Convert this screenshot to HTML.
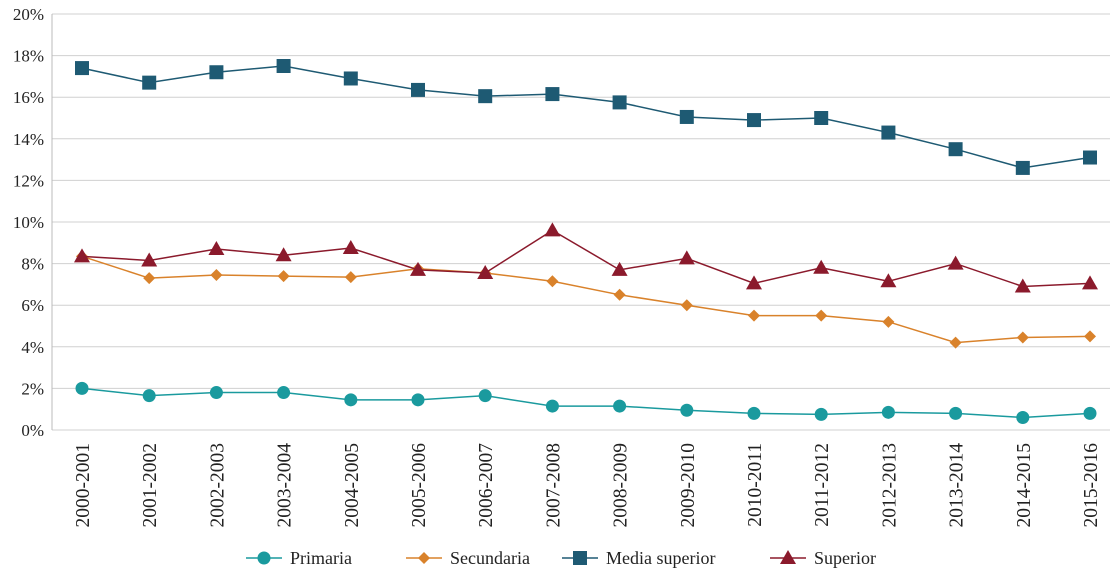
<!DOCTYPE html>
<html><head><meta charset="utf-8"><style>
body{margin:0;background:#fff;}
svg{display:block;font-family:"Liberation Serif",serif;}
</style></head><body>
<svg id="chart" width="1112" height="577"></svg>
<script>
const categories=["2000-2001","2001-2002","2002-2003","2003-2004","2004-2005","2005-2006","2006-2007","2007-2008","2008-2009","2009-2010","2010-2011","2011-2012","2012-2013","2013-2014","2014-2015","2015-2016"];
const primaria=[2.0,1.65,1.8,1.8,1.45,1.45,1.65,1.15,1.15,0.95,0.8,0.75,0.85,0.8,0.6,0.8];
const secundaria=[8.35,7.3,7.45,7.4,7.35,7.75,7.55,7.15,6.5,6.0,5.5,5.5,5.2,4.2,4.45,4.5];
const mediaSuperior=[17.4,16.7,17.2,17.5,16.9,16.35,16.05,16.15,15.75,15.05,14.9,15.0,14.3,13.5,12.6,13.1];
const superior=[8.35,8.15,8.7,8.4,8.75,7.7,7.55,9.6,7.7,8.25,7.05,7.8,7.15,8.0,6.9,7.05];
const yTicks=[0,2,4,6,8,10,12,14,16,18,20];
const seriesNames=["Primaria","Secundaria","Media superior","Superior"];

const NS="http://www.w3.org/2000/svg";
const svg=document.getElementById('chart');
const L=52,R=1110,T=14,B=430;
const x=i=>82+i*(1090-82)/(categories.length-1);
const y=v=>B-(v/20)*(B-T);
function mk(tag,attrs,parent){const e=document.createElementNS(NS,tag);for(const k in attrs)e.setAttribute(k,attrs[k]);(parent||svg).appendChild(e);return e;}

const grid=mk('g',{});


yTicks.forEach(t=>{
  const l=mk('line',{x1:L,x2:R,y1:y(t),y2:y(t),stroke:'#d0d0d0','stroke-width':1},grid);
  
  
  const tx=mk('text',{x:44,y:y(t)+6,'text-anchor':'end','font-size':17,fill:'#222'});
  tx.textContent=t+'%';
  
  
});
const ax=mk('line',{x1:L,x2:L,y1:T,y2:B,stroke:'#bbb'});


categories.forEach((c,i)=>{
  const tx=mk('text',{transform:`translate(${x(i)+7},443) rotate(-90)`,'text-anchor':'end','font-size':19.5,fill:'#222'});
  tx.textContent=c;
  
  
});

function marker(type,cx,cy,color,g){
  let e;
  if(type==='circle')e=mk('circle',{cx,cy,r:6.5,fill:color},g);
  else if(type==='diamond')e=mk('polygon',{points:`${cx},${cy-6} ${cx+6},${cy} ${cx},${cy+6} ${cx-6},${cy}`,fill:color},g);
  else if(type==='square')e=mk('rect',{x:cx-7,y:cy-7,width:14,height:14,fill:color},g);
  else e=mk('polygon',{points:`${cx},${cy-8} ${cx+8},${cy+6} ${cx-8},${cy+6}`,fill:color},g);
  return e;
}
const series=[
  {name:'primaria',data:primaria,color:'#1a9a9e',m:'circle'},
  {name:'secundaria',data:secundaria,color:'#d9822b',m:'diamond'},
  {name:'media-superior',data:mediaSuperior,color:'#1e5a73',m:'square'},
  {name:'superior',data:superior,color:'#8b1a2c',m:'triangle'}
];
series.forEach(s=>{
  const g=mk('g',{});
  
  
  const p=mk('polyline',{points:s.data.map((v,i)=>x(i)+','+y(v)).join(' '),fill:'none',stroke:s.color,'stroke-width':1.5},g);
  
  
  s.data.forEach((v,i)=>{
    const m=marker(s.m,x(i),y(v),s.color,g);
    
    
  });
});
const lg=mk('g',{});


const lx=[246,406,562,770];
series.forEach((s,i)=>{
  const g=mk('g',{},lg);
  
  
  mk('line',{x1:lx[i],x2:lx[i]+36,y1:558,y2:558,stroke:s.color,'stroke-width':1.5},g);
  marker(s.m,lx[i]+18,558,s.color,g);
  const t=mk('text',{x:lx[i]+44,y:564,'font-size':18,fill:'#222'},g);
  t.textContent=seriesNames[i];
});
</script>
</body></html>
